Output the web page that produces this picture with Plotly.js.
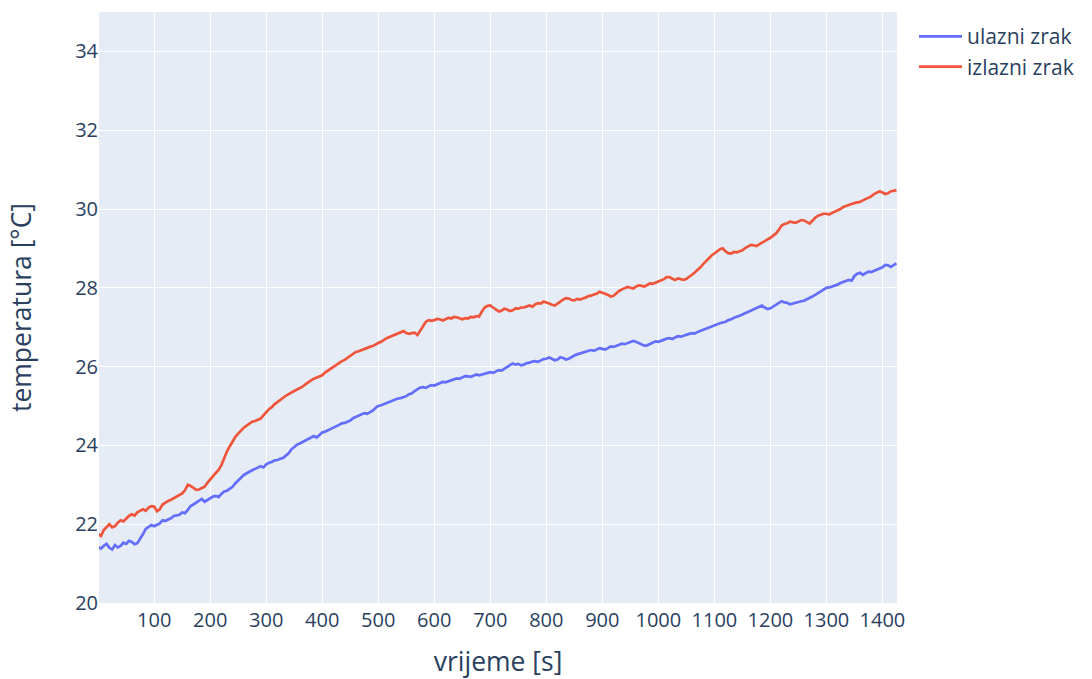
<!DOCTYPE html>
<html>
<head>
<meta charset="utf-8">
<script src="https://cdn.plot.ly/plotly-3.0.1.min.js"></script>
<style>html,body{margin:0;padding:0;background:#fff;}#chart{width:1092px;height:679px;}</style>
</head>
<body>
<div id="chart"></div>
<script>
// time [s]
const time = [
0,5,10,15,20,25,30,35,40,45,50,55,60,65,70,75,80,85,90,95,
100,105,110,115,120,125,130,135,140,145,150,155,160,165,170,175,180,185,190,195,
200,205,210,215,220,225,230,235,240,245,250,255,260,265,270,275,280,285,290,295,
300,305,310,315,320,325,330,335,340,345,350,355,360,365,370,375,380,385,390,395,
400,405,410,415,420,425,430,435,440,445,450,455,460,465,470,475,480,485,490,495,
500,505,510,515,520,525,530,535,540,545,550,555,560,565,570,575,580,585,590,595,
600,605,610,615,620,625,630,635,640,645,650,655,660,665,670,675,680,685,690,695,
700,705,710,715,720,725,730,735,740,745,750,755,760,765,770,775,780,785,790,795,
800,805,810,815,820,825,830,835,840,845,850,855,860,865,870,875,880,885,890,895,
900,905,910,915,920,925,930,935,940,945,950,955,960,965,970,975,980,985,990,995,
1000,1005,1010,1015,1020,1025,1030,1035,1040,1045,1050,1055,1060,1065,1070,1075,1080,1085,1090,1095,
1100,1105,1110,1115,1120,1125,1130,1135,1140,1145,1150,1155,1160,1165,1170,1175,1180,1185,1190,1195,
1200,1205,1210,1215,1220,1225,1230,1235,1240,1245,1250,1255,1260,1265,1270,1275,1280,1285,1290,1295,
1300,1305,1310,1315,1320,1325,1330,1335,1340,1345,1350,1355,1360,1365,1370,1375,1380,1385,1390,1395,
1400,1405,1410,1415,1420,1425];

// ulazni zrak (inlet air) [°C]
const ulazni = [
21.42,21.38,21.45,21.50,21.40,21.36,21.47,21.41,21.45,21.53,21.50,21.58,21.55,21.49,21.52,21.62,21.75,21.88,21.92,21.98,
21.95,21.99,22.02,22.10,22.08,22.12,22.15,22.21,22.22,22.24,22.30,22.28,22.36,22.46,22.50,22.55,22.60,22.64,22.57,22.62,
22.66,22.70,22.72,22.69,22.77,22.83,22.85,22.91,22.95,23.04,23.10,23.18,23.25,23.30,23.33,23.37,23.40,23.45,23.47,23.44,
23.52,23.56,23.58,23.62,23.63,23.66,23.68,23.74,23.80,23.90,23.97,24.02,24.05,24.09,24.12,24.16,24.20,24.24,24.20,24.27,
24.33,24.35,24.38,24.43,24.45,24.48,24.52,24.56,24.57,24.60,24.63,24.69,24.72,24.75,24.77,24.82,24.80,24.84,24.88,24.95,
25.00,25.02,25.05,25.07,25.10,25.13,25.15,25.19,25.20,25.22,25.25,25.30,25.32,25.38,25.42,25.47,25.48,25.46,25.50,25.53,
25.52,25.55,25.57,25.61,25.60,25.63,25.65,25.68,25.70,25.69,25.72,25.76,25.75,25.74,25.77,25.80,25.78,25.80,25.82,25.85,
25.86,25.84,25.88,25.91,25.90,25.94,25.98,26.04,26.08,26.05,26.07,26.03,26.05,26.09,26.10,26.13,26.14,26.12,26.16,26.19,
26.20,26.23,26.20,26.16,26.18,26.24,26.22,26.18,26.20,26.25,26.28,26.31,26.33,26.35,26.37,26.40,26.42,26.40,26.44,26.47,
26.45,26.43,26.47,26.51,26.50,26.53,26.54,26.58,26.57,26.60,26.62,26.65,26.63,26.60,26.58,26.53,26.54,26.58,26.60,26.64,
26.63,26.66,26.68,26.71,26.72,26.70,26.74,26.77,26.76,26.79,26.80,26.83,26.85,26.84,26.88,26.91,26.93,26.95,26.98,27.02,
27.05,27.07,27.10,27.12,27.14,27.18,27.20,27.24,27.26,27.29,27.32,27.35,27.38,27.42,27.45,27.49,27.52,27.55,27.50,27.46,
27.48,27.53,27.58,27.62,27.66,27.63,27.62,27.58,27.60,27.63,27.64,27.66,27.67,27.70,27.73,27.78,27.82,27.87,27.92,27.96,
28.00,28.01,28.03,28.06,28.08,28.12,28.15,28.17,28.20,28.18,28.30,28.36,28.38,28.33,28.37,28.41,28.40,28.43,28.45,28.50,
28.52,28.58,28.57,28.53,28.57,28.62];

// izlazni zrak (outlet air) [°C]
const izlazni = [
21.75,21.70,21.85,21.93,22.00,21.92,21.95,22.04,22.10,22.07,22.15,22.21,22.25,22.22,22.30,22.35,22.38,22.34,22.42,22.46,
22.45,22.33,22.38,22.50,22.55,22.59,22.62,22.66,22.70,22.74,22.78,22.86,23.00,22.97,22.92,22.87,22.88,22.92,22.95,23.05,
23.15,23.22,23.30,23.38,23.50,23.68,23.85,23.98,24.10,24.22,24.30,24.38,24.45,24.50,24.55,24.60,24.62,24.66,24.68,24.76,
24.85,24.92,24.97,25.05,25.10,25.16,25.20,25.26,25.30,25.33,25.38,25.42,25.45,25.49,25.55,25.61,25.65,25.69,25.72,25.75,
25.78,25.85,25.90,25.96,26.00,26.06,26.10,26.14,26.17,26.22,26.27,26.33,26.37,26.39,26.42,26.46,26.47,26.50,26.52,26.57,
26.60,26.63,26.68,26.72,26.75,26.78,26.82,26.86,26.88,26.90,26.85,26.83,26.85,26.86,26.80,26.92,27.05,27.14,27.18,27.16,
27.18,27.21,27.20,27.17,27.20,27.24,27.22,27.26,27.25,27.22,27.20,27.23,27.22,27.26,27.25,27.28,27.27,27.40,27.50,27.54,
27.55,27.50,27.45,27.40,27.42,27.47,27.45,27.41,27.43,27.48,27.47,27.50,27.50,27.53,27.55,27.52,27.58,27.61,27.60,27.65,
27.63,27.60,27.57,27.55,27.60,27.66,27.70,27.74,27.73,27.69,27.68,27.72,27.70,27.73,27.75,27.79,27.80,27.83,27.85,27.90,
27.88,27.85,27.82,27.78,27.80,27.87,27.92,27.96,27.99,28.02,28.00,27.98,28.03,28.06,28.05,28.03,28.07,28.11,28.10,28.13,
28.15,28.19,28.22,28.27,28.27,28.23,28.20,28.24,28.22,28.20,28.23,28.27,28.33,28.39,28.45,28.52,28.60,28.68,28.75,28.82,
28.87,28.93,28.98,29.00,28.92,28.88,28.87,28.91,28.90,28.93,28.95,29.01,29.05,29.09,29.08,29.06,29.10,29.15,29.18,29.23,
29.27,29.33,29.38,29.47,29.58,29.62,29.64,29.68,29.67,29.65,29.68,29.72,29.71,29.67,29.63,29.70,29.78,29.83,29.85,29.88,
29.88,29.86,29.90,29.93,29.95,30.00,30.05,30.08,30.10,30.14,30.15,30.17,30.18,30.22,30.25,30.29,30.32,30.38,30.42,30.45,
30.42,30.38,30.40,30.45,30.46,30.48];

const names = ['ulazni zrak', 'izlazni zrak'];
const colors = ['#636efa', '#EF553B'];
const yTicks = [20,22,24,26,28,30,32,34];
const xTicks = [100,200,300,400,500,600,700,800,900,1000,1100,1200,1300,1400];

const traces = [ulazni, izlazni].map((ys, i) => ({
  type: 'scatter', mode: 'lines', x: time, y: ys, name: names[i],
  line: {color: colors[i], width: 2.7}
}));

const layout = {
  width: 1092, height: 679,
  margin: {l: 99, r: 195, t: 12, b: 76},
  paper_bgcolor: '#ffffff', plot_bgcolor: '#E5ECF6',
  font: {family: '"Open Sans", verdana, arial, sans-serif', size: 20, color: '#2a3f5f'},
  xaxis: {
    range: [1.5, 1426], tickvals: xTicks, gridcolor: '#ffffff', gridwidth: 1.3,
    zeroline: false, showline: false, ticks: '', ticklabelstandoff: 3,
    title: {text: 'vrijeme [s]', font: {size: 26.5}, standoff: 25}
  },
  yaxis: {
    range: [20, 35], tickvals: yTicks, gridcolor: '#ffffff', gridwidth: 1.3,
    zeroline: false, showline: false, ticks: '',
    title: {text: 'temperatura [°C]', font: {size: 26.5}, standoff: 35}
  },
  legend: {font: {size: 21}, x: 1.0213, y: 0.993, itemwidth: 43, bgcolor: 'rgba(0,0,0,0)'},
  showlegend: true
};

Plotly.newPlot('chart', traces, layout, {displayModeBar: false, responsive: false});
</script>
</body>
</html>
